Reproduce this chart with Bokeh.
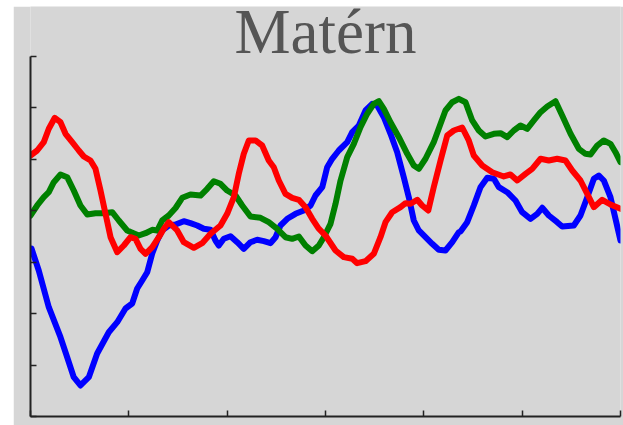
from bokeh.plotting import figure
from bokeh.models import FixedTicker, Range1d, Label, CustomJSTickFormatter
from bokeh.embed import file_html
from bokeh.resources import INLINE

# Three sample paths drawn from a Matérn-kernel Gaussian process
blue_x = [0.010, 0.084, 0.186, 0.305, 0.373, 0.440, 0.508, 0.593, 0.678, 0.796,
          0.882, 0.966, 1.034, 1.085, 1.136, 1.187, 1.238, 1.289, 1.339, 1.406,
          1.475, 1.559, 1.627, 1.695, 1.762, 1.831, 1.881, 1.915, 1.966, 2.034,
          2.102, 2.169, 2.237, 2.305, 2.373, 2.441, 2.492, 2.542, 2.611, 2.695,
          2.779, 2.848, 2.898, 2.967, 3.017, 3.068, 3.135, 3.221, 3.272, 3.339,
          3.407, 3.475, 3.526, 3.593, 3.661, 3.729, 3.796, 3.847, 3.898, 3.949,
          4.017, 4.085, 4.152, 4.220, 4.289, 4.356, 4.373, 4.441, 4.508, 4.576,
          4.645, 4.712, 4.763, 4.848, 4.932, 5.000, 5.085, 5.153, 5.204, 5.271,
          5.356, 5.407, 5.525, 5.593, 5.662, 5.729, 5.780, 5.830, 5.898, 5.949,
          6.000]
blue_y = [-0.233, -0.661, -1.375, -1.958, -2.347, -2.736, -2.897, -2.736, -2.275, -1.861,
          -1.666, -1.400, -1.303, -1.011, -0.856, -0.694, -0.331, -0.078, 0.117, 0.214,
          0.233, 0.297, 0.259, 0.214, 0.150, 0.130, -0.078, -0.175, -0.045, 0.006,
          -0.111, -0.239, -0.111, -0.064, -0.091, -0.130, -0.014, 0.214, 0.344, 0.441,
          0.506, 0.603, 0.797, 0.959, 1.347, 1.511, 1.672, 1.834, 2.028, 2.158,
          2.450, 2.580, 2.547, 2.320, 1.997, 1.639, 1.153, 0.764, 0.311, 0.117,
          -0.014, -0.142, -0.259, -0.272, -0.111, 0.084, 0.097, 0.278, 0.603, 0.959,
          1.141, 1.122, 0.959, 0.861, 0.700, 0.472, 0.344, 0.441, 0.558, 0.408,
          0.278, 0.194, 0.214, 0.408, 0.764, 1.122, 1.186, 1.089, 0.764, 0.344,
          -0.078]

red_x = [0.000, 0.068, 0.135, 0.186, 0.247, 0.305, 0.356, 0.424, 0.491, 0.542,
         0.610, 0.661, 0.712, 0.763, 0.814, 0.882, 0.949, 1.017, 1.068, 1.119,
         1.170, 1.238, 1.305, 1.356, 1.406, 1.492, 1.559, 1.661, 1.746, 1.831,
         1.932, 2.000, 2.068, 2.118, 2.169, 2.220, 2.288, 2.356, 2.423, 2.474,
         2.525, 2.593, 2.661, 2.729, 2.797, 2.865, 2.929, 3.000, 3.102, 3.186,
         3.272, 3.322, 3.407, 3.491, 3.559, 3.610, 3.678, 3.763, 3.814, 3.865,
         3.933, 3.983, 4.045, 4.101, 4.170, 4.238, 4.305, 4.390, 4.457, 4.508,
         4.594, 4.695, 4.813, 4.881, 4.950, 5.034, 5.102, 5.187, 5.271, 5.356,
         5.440, 5.509, 5.593, 5.662, 5.729, 5.814, 5.898, 6.000]
red_y = [1.575, 1.672, 1.834, 2.094, 2.308, 2.222, 1.997, 1.834, 1.672, 1.556,
         1.478, 1.316, 0.894, 0.441, -0.014, -0.305, -0.175, -0.014, -0.045, -0.239,
         -0.336, -0.208, -0.014, 0.150, 0.278, 0.117, -0.111, -0.220, -0.130, 0.052,
         0.214, 0.441, 0.764, 1.219, 1.608, 1.867, 1.867, 1.769, 1.478, 1.347,
         1.089, 0.830, 0.752, 0.714, 0.570, 0.344, 0.156, 0.019, -0.272, -0.402,
         -0.434, -0.519, -0.480, -0.336, -0.014, 0.278, 0.472, 0.570, 0.647, 0.636,
         0.714, 0.603, 0.506, 0.959, 1.478, 1.964, 2.061, 2.119, 1.867, 1.575,
         1.381, 1.250, 1.167, 1.206, 1.089, 1.219, 1.316, 1.511, 1.478, 1.511,
         1.478, 1.283, 1.089, 0.830, 0.570, 0.714, 0.622, 0.539]

green_x = [0.000, 0.068, 0.135, 0.186, 0.237, 0.305, 0.373, 0.440, 0.508, 0.577,
           0.661, 0.745, 0.831, 0.898, 0.983, 1.101, 1.170, 1.238, 1.289, 1.339,
           1.406, 1.475, 1.543, 1.627, 1.729, 1.797, 1.864, 1.932, 2.000, 2.085,
           2.153, 2.237, 2.339, 2.423, 2.509, 2.593, 2.661, 2.729, 2.797, 2.865,
           2.932, 2.983, 3.051, 3.102, 3.153, 3.221, 3.288, 3.356, 3.424, 3.491,
           3.542, 3.593, 3.661, 3.746, 3.831, 3.898, 3.949, 4.017, 4.101, 4.170,
           4.220, 4.289, 4.356, 4.424, 4.492, 4.559, 4.627, 4.712, 4.780, 4.848,
           4.915, 4.983, 5.051, 5.119, 5.187, 5.255, 5.339, 5.407, 5.492, 5.576,
           5.644, 5.695, 5.763, 5.830, 5.898, 5.949, 6.000]
green_y = [0.408, 0.603, 0.764, 0.861, 1.056, 1.206, 1.153, 0.894, 0.603, 0.428,
           0.453, 0.453, 0.472, 0.311, 0.117, 0.019, 0.064, 0.130, 0.117, 0.311,
           0.408, 0.554, 0.752, 0.817, 0.797, 0.927, 1.075, 1.025, 0.894, 0.797,
           0.603, 0.389, 0.364, 0.278, 0.150, -0.014, -0.045, 0.000, -0.175, -0.286,
           -0.175, -0.014, 0.247, 0.636, 1.089, 1.542, 1.802, 2.125, 2.386, 2.580,
           2.631, 2.483, 2.222, 1.931, 1.608, 1.381, 1.316, 1.511, 1.834, 2.191,
           2.450, 2.611, 2.677, 2.611, 2.256, 2.061, 1.944, 1.997, 2.009, 1.931,
           2.061, 2.158, 2.094, 2.256, 2.417, 2.528, 2.631, 2.353, 1.997, 1.705,
           1.608, 1.594, 1.769, 1.867, 1.802, 1.639, 1.445]

x_ticks = [0, 1, 2, 3, 4, 5, 6]
y_ticks = [-3.5, -2.5, -1.5, -0.5, 0.5, 1.5, 2.5, 3.5]
title_text = "Matérn"

bg = "#d6d6d6"

# The frame runs to the top of the canvas so the title can sit inside it;
# the axis line itself is bounded to the data interval [-3.5, 3.5].
p = figure(width=610, height=419, output_backend="svg", toolbar_location=None,
           x_range=Range1d(0, 6), y_range=Range1d(-3.5, 4.472),
           min_border_left=17, min_border_right=3, min_border_bottom=9, min_border_top=0)
p.margin = (6, 0, 0, 13)

p.background_fill_color = bg
p.border_fill_color = bg
p.outline_line_color = None
p.grid.visible = False

p.add_layout(Label(x=3, y=3.5, y_offset=24, text=title_text,
                   text_align="center", text_baseline="alphabetic",
                   text_font="Liberation Serif", text_font_size="63px",
                   text_color="#555555"))

blank = CustomJSTickFormatter(code="return '';")
for ax, ticks in ((p.xaxis, x_ticks), (p.yaxis, y_ticks)):
    ax.ticker = FixedTicker(ticks=ticks)
    ax.formatter = blank
    ax.minor_tick_line_color = None
    ax.major_tick_in = 6
    ax.major_tick_out = 0
    ax.major_tick_line_color = "#222222"
    ax.major_tick_line_width = 1.5
    ax.axis_line_color = "#222222"
    ax.axis_line_width = 2
    ax.major_label_standoff = 0
p.yaxis.bounds = (-3.5, 3.5)

p.line(blue_x, blue_y, line_color="#0000ff", line_width=6,
       line_join="round", line_cap="round")
p.line(green_x, green_y, line_color="#008000", line_width=6,
       line_join="round", line_cap="round")
p.line(red_x, red_y, line_color="#ff0000", line_width=6,
       line_join="round", line_cap="round")

open("out.html", "w").write(file_html(p, INLINE))
